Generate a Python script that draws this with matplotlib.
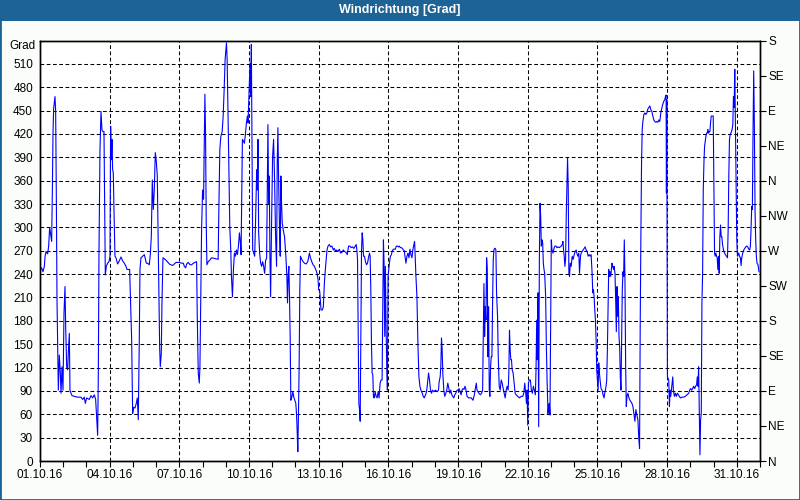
import matplotlib
matplotlib.use("Agg")
import matplotlib.pyplot as plt
from matplotlib.patches import Rectangle
import numpy as np

# time in days since 01.10.16 00:00, wind direction in degrees (continuous, >360 allowed)
days_a = [0.000, 0.072, 0.129, 0.187, 0.215, 0.258, 0.330, 0.373, 0.416, 0.473, 0.502, 0.531, 0.560, 0.588,
          0.646, 0.674, 0.703, 0.732, 0.789, 0.832, 0.875, 0.904, 0.947, 0.990, 1.033, 1.076, 1.105, 1.148,
          1.191, 1.220, 1.263, 1.291, 1.334, 1.377, 1.478, 1.621, 1.765, 1.836, 1.908, 1.951, 2.009, 2.123,
          2.195, 2.267, 2.339, 2.396, 2.439, 2.482, 2.511, 2.539, 2.582, 2.626, 2.669, 2.712, 2.755, 2.783,
          2.812, 2.855, 2.912, 2.970, 3.013, 3.041, 3.070, 3.099, 3.127, 3.156, 3.185, 3.227, 3.271, 3.343,
          3.415, 3.486, 3.558, 3.630, 3.702, 3.745, 3.859, 3.888, 3.946, 3.989, 4.032, 4.089, 4.146, 4.189,
          4.232, 4.275, 4.304, 4.347, 4.419, 4.491, 4.533, 4.577, 4.634, 4.706, 4.749, 4.792, 4.835, 4.878,
          4.921, 4.964, 5.007, 5.050, 5.093, 5.122, 5.151, 5.179, 5.222, 5.251, 5.294, 5.423, 5.567, 5.710,
          5.854, 5.997]
vals_a = [245, 248, 243, 250, 262, 269, 266, 276, 300, 288, 282, 345, 421, 453,
          468, 449, 340, 207, 91, 136, 113, 87, 121, 91, 190, 224, 173, 121,
          117, 140, 164, 91, 87, 84, 83, 82, 82, 79, 82, 74, 81, 79,
          84, 81, 85, 79, 57, 33, 111, 267, 398, 449, 425, 423, 423, 331,
          239, 250, 254, 256, 263, 430, 387, 413, 374, 370, 323, 263, 261, 253,
          257, 262, 257, 254, 250, 246, 246, 216, 156, 61, 69, 68, 74, 81,
          53, 156, 246, 261, 263, 265, 260, 254, 254, 252, 265, 288, 361, 323,
          348, 396, 385, 366, 276, 220, 147, 121, 138, 203, 261, 258, 253, 251,
          255, 255]

days_b = [6.100, 6.171, 6.214, 6.271, 6.314, 6.386, 6.457, 6.529, 6.600, 6.671, 6.743, 6.771, 6.814, 6.857,
          6.886, 6.914, 6.957, 7.000, 7.043, 7.071, 7.100, 7.129, 7.157, 7.186, 7.243, 7.314, 7.386, 7.529,
          7.671, 7.700, 7.743, 7.786, 7.843, 7.886, 7.929, 7.971, 8.029, 8.057, 8.086, 8.129, 8.171, 8.214,
          8.243, 8.286, 8.329, 8.371, 8.414, 8.457, 8.500, 8.543, 8.586, 8.629, 8.657, 8.686, 8.714, 8.757,
          8.800, 8.843, 8.886, 8.929, 8.957, 8.986, 9.014, 9.043, 9.071, 9.100, 9.129, 9.157, 9.200, 9.243,
          9.286, 9.329, 9.357, 9.386, 9.414, 9.457, 9.500, 9.543, 9.586, 9.629, 9.671, 9.714, 9.757, 9.786,
          9.814, 9.843, 9.871, 9.900, 9.929, 9.971, 10.014, 10.057, 10.100, 10.143, 10.186, 10.214, 10.243,
          10.271, 10.314, 10.343, 10.371, 10.400, 10.429, 10.471, 10.529, 10.586, 10.629, 10.657, 10.686,
          10.714, 10.743, 10.771, 10.800, 10.843, 10.886, 10.929, 10.971, 11.014, 11.043, 11.071, 11.100,
          11.129, 11.157, 11.186, 11.214, 11.271, 11.329, 11.386, 11.457, 11.529, 11.600, 11.643, 11.700,
          11.757, 11.814, 11.871, 11.929, 11.971, 12.000, 12.043, 12.071, 12.100, 12.157, 12.200, 12.243,
          12.286]
vals_b = [254, 254, 250, 248, 253, 255, 252, 252, 254, 255, 256, 186, 113, 100,
          121, 190, 297, 348, 336, 400, 471, 417, 306, 252, 256, 258, 261, 260,
          259, 323, 400, 417, 423, 443, 477, 516, 537, 516, 464, 383, 301, 271,
          237, 211, 246, 267, 263, 271, 265, 276, 293, 280, 265, 340, 413, 411,
          408, 419, 434, 443, 434, 460, 481, 511, 468, 535, 408, 271, 267, 263,
          314, 374, 348, 413, 293, 267, 254, 250, 256, 250, 241, 258, 260, 348,
          432, 331, 366, 263, 211, 306, 391, 413, 361, 288, 250, 383, 428,
          366, 297, 263, 366, 331, 306, 297, 288, 263, 237, 203, 237,
          250, 211, 160, 78, 82, 89, 82, 78, 74, 61, 40, 12,
          61, 121, 220, 263, 259, 256, 254, 253, 256, 267, 261, 256,
          252, 250, 246, 241, 233, 220, 218, 207, 194, 194, 198, 228,
          246]

days_c = [12.357, 12.400, 12.457, 12.514, 12.571, 12.629, 12.671, 12.714, 12.771, 12.829, 12.886, 12.943,
          13.000, 13.057, 13.114, 13.171, 13.229, 13.286, 13.343, 13.400, 13.457, 13.514, 13.571, 13.614,
          13.643, 13.671, 13.700, 13.729, 13.757, 13.786, 13.814, 13.843, 13.871, 13.900, 13.929, 13.971,
          14.014, 14.057, 14.100, 14.143, 14.186, 14.214, 14.243, 14.271, 14.300, 14.329, 14.357, 14.386,
          14.429, 14.471, 14.514, 14.557, 14.600, 14.643, 14.686, 14.729, 14.757, 14.786, 14.814, 14.843,
          14.871, 14.900, 14.929, 14.957, 14.986, 15.014, 15.043, 15.086, 15.129, 15.171, 15.214, 15.257,
          15.300, 15.343, 15.386, 15.429, 15.471, 15.514, 15.557, 15.600, 15.643, 15.686, 15.714, 15.757,
          15.800, 15.843, 15.886, 15.929, 15.971, 16.014, 16.057, 16.100, 16.129, 16.157, 16.186, 16.229,
          16.271, 16.314, 16.357, 16.400, 16.457, 16.500, 16.543, 16.600, 16.643, 16.686, 16.729, 16.771,
          16.814, 16.857, 16.900, 16.957, 17.029, 17.100, 17.157, 17.186, 17.229, 17.257, 17.286, 17.314,
          17.343, 17.386, 17.429, 17.471, 17.514, 17.557, 17.600, 17.643, 17.686, 17.729, 17.771, 17.814,
          17.857, 17.900, 17.957, 18.000, 18.043, 18.086, 18.129, 18.171, 18.214, 18.257, 18.300, 18.343,
          18.386, 18.457]
vals_c = [271, 276, 278, 275, 276, 271, 273, 270, 271, 269, 272, 267,
          268, 271, 269, 268, 265, 276, 276, 274, 275, 273, 276, 278,
          271, 259, 168, 74, 66, 51, 168, 271, 293, 284, 263, 263,
          256, 252, 254, 261, 267, 263, 220, 151, 113, 111, 83, 81,
          89, 83, 81, 89, 81, 100, 104, 104, 194, 284, 254, 160,
          250, 173, 121, 91, 237, 246, 254, 263, 265, 270, 272, 272,
          272, 276, 276, 275, 276, 274, 274, 273, 271, 270, 263, 254,
          263, 267, 261, 272, 265, 261, 272, 278, 282, 259, 237, 211,
          151, 108, 96, 91, 87, 83, 81, 85, 89, 100, 113, 104,
          91, 87, 91, 89, 91, 89, 91, 102, 108, 121, 158, 144,
          113, 91, 83, 87, 91, 100, 94, 87, 91, 85, 83, 81,
          85, 87, 91, 91, 93, 89, 85, 91, 93, 92, 96, 91,
          83, 81]

days_d = [18.500, 18.571, 18.643, 18.700, 18.743, 18.786, 18.814, 18.857, 18.900, 18.957, 19.014, 19.057,
          19.086, 19.114, 19.143, 19.171, 19.200, 19.229, 19.257, 19.286, 19.314, 19.343, 19.371, 19.400,
          19.429, 19.457, 19.486, 19.514, 19.543, 19.571, 19.600, 19.629, 19.657, 19.700, 19.729, 19.771,
          19.814, 19.857, 19.900, 19.943, 19.986, 20.029, 20.071, 20.114, 20.157, 20.186, 20.214, 20.243,
          20.271, 20.300, 20.329, 20.371, 20.414, 20.457, 20.500, 20.571, 20.643, 20.714, 20.786, 20.829,
          20.871, 20.914, 20.943, 20.971, 21.000, 21.029, 21.071, 21.114, 21.157, 21.200, 21.243, 21.286,
          21.329, 21.357, 21.386, 21.414, 21.443, 21.471, 21.500, 21.529, 21.557, 21.586, 21.614, 21.643,
          21.671, 21.700, 21.729, 21.771, 21.800, 21.829, 21.871, 21.900, 21.929, 21.957, 21.986, 22.014,
          22.043, 22.086, 22.129, 22.171, 22.214, 22.257, 22.300, 22.357, 22.400, 22.443, 22.486, 22.514,
          22.543, 22.571, 22.600, 22.629, 22.657, 22.686, 22.714, 22.743, 22.771, 22.800, 22.829, 22.871,
          22.914, 22.957, 23.000, 23.043, 23.086, 23.114, 23.157, 23.200, 23.229, 23.271, 23.300, 23.343,
          23.386, 23.429, 23.471, 23.514, 23.557, 23.600, 23.643, 23.686, 23.729, 23.771, 23.800, 23.829,
          23.857, 23.886, 23.914, 23.943, 23.971, 24.000, 24.029, 24.057, 24.086, 24.114, 24.157, 24.200,
          24.243, 24.286, 24.314, 24.343, 24.371, 24.400, 24.429, 24.457, 24.486, 24.514, 24.543, 24.571,
          24.600, 24.629, 24.657, 24.700]
vals_d = [81, 81, 78, 85, 93, 100, 91, 89, 87, 85, 87, 91,
          158, 228, 160, 198, 181, 261, 246, 134, 198, 91, 83, 121,
          134, 134, 203, 258, 271, 273, 273, 271, 216, 186, 136, 96,
          91, 104, 100, 93, 87, 81, 91, 96, 91, 113, 168, 143,
          130, 130, 117, 113, 100, 87, 85, 83, 81, 83, 83, 87,
          100, 87, 74, 91, 46, 100, 104, 104, 91, 87, 96, 91,
          85, 117, 181, 130, 216, 44, 258, 331, 314, 276, 284, 280,
          254, 246, 241, 211, 151, 108, 61, 70, 74, 59, 173, 284,
          271, 267, 273, 276, 276, 274, 275, 274, 275, 276, 278, 282,
          271, 263, 250, 259, 314, 353, 389, 353, 241, 237, 254, 250,
          263, 259, 265, 269, 271, 267, 263, 267, 241, 263, 267, 269,
          271, 273, 275, 271, 269, 263, 265, 263, 265, 241, 216, 220,
          211, 194, 181, 156, 117, 104, 91, 126, 113, 104, 93, 91,
          85, 81, 87, 91, 96, 104, 143, 198, 246, 237, 243, 237,
          246, 254, 250, 246]

days_e = [24.714, 24.757, 24.786, 24.814, 24.843, 24.871, 24.900, 24.929, 24.957, 24.986, 25.014, 25.043,
          25.071, 25.100, 25.129, 25.157, 25.186, 25.214, 25.243, 25.271, 25.314, 25.357, 25.400, 25.443,
          25.486, 25.529, 25.571, 25.614, 25.657, 25.700, 25.743, 25.786, 25.814, 25.843, 25.871, 25.900,
          25.929, 25.957, 26.000, 26.043, 26.086, 26.129, 26.171, 26.214, 26.257, 26.300, 26.343, 26.386,
          26.429, 26.471, 26.514, 26.557, 26.600, 26.643, 26.686, 26.729, 26.771, 26.814, 26.857, 26.900,
          26.929, 26.957, 26.971, 26.986, 27.014, 27.071, 27.100, 27.129, 27.157, 27.200, 27.243, 27.271,
          27.314, 27.357, 27.400, 27.443, 27.486, 27.529, 27.571, 27.643, 27.714, 27.786, 27.857, 27.929,
          27.971, 28.014, 28.057, 28.100, 28.143, 28.186, 28.229, 28.271, 28.300, 28.329, 28.357, 28.386,
          28.414, 28.443, 28.471, 28.500, 28.529, 28.557, 28.586, 28.614, 28.643, 28.671, 28.700, 28.729,
          28.757, 28.786, 28.814, 28.843, 28.871, 28.900, 28.943, 28.986, 29.014, 29.043, 29.071, 29.100,
          29.129, 29.157, 29.186, 29.214, 29.243, 29.271, 29.300, 29.329, 29.357, 29.386, 29.429, 29.471,
          29.514, 29.557, 29.600, 29.629, 29.657, 29.686, 29.714, 29.743, 29.771, 29.800, 29.829, 29.857,
          29.886, 29.914, 29.943, 29.971, 30.000, 30.029, 30.057, 30.086, 30.114, 30.157, 30.186, 30.214,
          30.257, 30.300, 30.343, 30.386, 30.429, 30.471, 30.514, 30.557, 30.586, 30.614, 30.643, 30.671,
          30.700, 30.729, 30.757, 30.786, 30.814, 30.843, 30.871, 30.914, 30.957]
vals_e = [250, 241, 207, 166, 224, 186, 211, 160, 147, 108, 91, 160,
          220, 243, 237, 284, 233, 126, 70, 83, 87, 81, 78, 76,
          74, 70, 61, 51, 66, 59, 53, 27, 16, 177, 288, 383,
          426, 436, 445, 447, 445, 447, 452, 454, 456, 451, 449, 443,
          438, 436, 435, 436, 435, 438, 436, 447, 453, 458, 462, 464,
          468, 470, 344, 464, 108, 104, 70, 91, 83, 96, 108, 91,
          83, 87, 83, 87, 85, 83, 81, 82, 82, 83, 85, 87,
          91, 93, 91, 93, 96, 93, 96, 98, 108, 96, 121, 61,
          8, 53, 61, 203, 241, 348, 383, 404, 411, 417, 421, 421,
          426, 421, 423, 423, 434, 443, 443, 443, 353, 267, 263, 267,
          263, 261, 246, 263, 241, 288, 303, 288, 288, 278, 271, 267,
          265, 263, 261, 297, 366, 413, 419, 421, 423, 426, 432, 468,
          454, 503, 426, 357, 284, 263, 265, 267, 263, 261, 251, 261,
          267, 271, 273, 275, 276, 275, 272, 271, 276, 297, 327, 323,
          423, 501, 434, 323, 284, 263, 254, 252, 243]

days = days_a + days_b + days_c + days_d + days_e
direction = vals_a + vals_b + vals_c + vals_d + vals_e

left_ticks = list(range(0, 511, 30))
right_tick_vals = list(range(0, 541, 45))
right_tick_labels = ["N", "NE", "E", "SE", "S", "SW", "W", "NW", "N", "NE", "E", "SE", "S"]
date_tick_pos = list(range(0, 31, 3))
date_labels = ["01.10.16", "04.10.16", "07.10.16", "10.10.16", "13.10.16", "16.10.16",
               "19.10.16", "22.10.16", "25.10.16", "28.10.16", "31.10.16"]
title = "Windrichtung [Grad]"

plt.rcParams['font.family'] = ['Liberation Sans', 'DejaVu Sans']
W, H = 800, 500
fig = plt.figure(figsize=(8, 5), dpi=100, facecolor='#fbfdfb')
bar_blue = '#1d6396'

# title bar
fig.patches.append(Rectangle((0, 1 - 21 / H), 1, 21 / H, transform=fig.transFigure,
                             facecolor=bar_blue, edgecolor='none', zorder=0))
fig.patches.append(Rectangle((0, 0), 1, 1, transform=fig.transFigure,
                             facecolor='none', edgecolor=bar_blue, linewidth=2, zorder=1))
fig.text(0.5, 1 - 10.5 / H, title, ha='center', va='center', color='white',
         fontsize=9, fontweight='bold')

ax = fig.add_axes([40 / W, 39 / H, 720 / W, 420.5 / H])
ax.set_facecolor('white')
ax.plot(days, direction, color='#0000ff', linewidth=0.8, zorder=3)

ax.set_xlim(0, 31)
ax.set_ylim(0, 540)
ax.set_yticks(left_ticks)
ax.set_yticklabels([str(v) for v in left_ticks])
ax.set_xticks(date_tick_pos)
ax.set_xticklabels(date_labels)
ax.set_xticks(range(0, 32), minor=True)
ax.tick_params(axis='x', which='both', direction='out', length=4, width=0.8, labelsize=8.5, pad=2)
ax.tick_params(axis='y', which='both', length=0, labelsize=8.5, pad=5)

ax.grid(True, which='major', color='black', linestyle=(0, (3.6, 2.4)), linewidth=0.75)
for s in ax.spines.values():
    s.set_linewidth(1.0)
    s.set_color('black')

ax2 = ax.twinx()
ax2.set_ylim(0, 540)
ax2.set_yticks(right_tick_vals)
ax2.set_yticklabels(right_tick_labels)
ax2.tick_params(axis='y', direction='out', length=4, width=0.8, labelsize=8.5, pad=2)
for s in ax2.spines.values():
    s.set_linewidth(1.0)

fig.text(36 / W, 1 - 46 / H, "Grad", ha='right', va='center', fontsize=8.5)

fig.savefig("out.png", dpi=100, facecolor=fig.get_facecolor())
